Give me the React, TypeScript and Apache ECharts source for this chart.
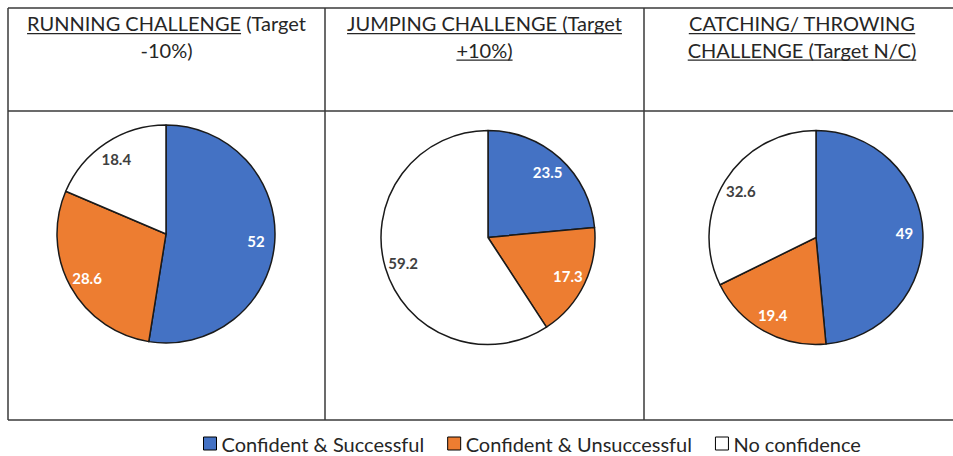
import React, { useEffect, useRef } from "react";
import * as echarts from "echarts";

const categories = ["Confident & Successful", "Confident & Unsuccessful", "No confidence"];
const runningValues = [52, 28.6, 18.4];
const jumpingValues = [23.5, 17.3, 59.2];
const catchingValues = [49, 19.4, 32.6];
const sliceColors = ["#4472C4", "#ED7D31", "#FFFFFF"];
const labelColors = ["#FFFFFF", "#FFFFFF", "#404040"];

// title lines: [full text, underlined prefix]
const runningTitle: [string, string][] = [
  ["RUNNING CHALLENGE (Target", "RUNNING CHALLENGE"],
  ["-10%)", ""],
];
const jumpingTitle: [string, string][] = [
  ["JUMPING CHALLENGE (Target", "JUMPING CHALLENGE (Target"],
  ["+10%)", "+10%)"],
];
const catchingTitle: [string, string][] = [
  ["CATCHING/ THROWING", "CATCHING/ THROWING"],
  ["CHALLENGE (Target N/C)", "CHALLENGE (Target N/C)"],
];

const FONT = "Lato";
const TEXT_COLOR = "#262626";
const LINE_COLOR = "#3a3a3a";
const TITLE_SIZE = 20;

function measure(text: string, font: string): number {
  const c = document.createElement("canvas").getContext("2d");
  if (!c) return text.length * 9;
  c.font = font;
  return c.measureText(text).width;
}

export default function App() {
  const ref = useRef<HTMLDivElement>(null);

  useEffect(() => {
    if (!ref.current) return;
    const chart = echarts.init(ref.current, undefined, { renderer: "svg" });

    const panels = [
      { values: runningValues, title: runningTitle, cx: 166, cy: 234, r: 109, tx: 166.5 },
      { values: jumpingValues, title: jumpingTitle, cx: 488, cy: 237.5, r: 107, tx: 484.5 },
      { values: catchingValues, title: catchingTitle, cx: 816, cy: 237.5, r: 107, tx: 802 },
    ];

    const series: any[] = [];
    panels.forEach((p) => {
      series.push({
        type: "pie",
        center: [p.cx, p.cy],
        radius: p.r,
        startAngle: 90,
        clockwise: true,
        label: { show: false },
        labelLine: { show: false },
        emphasis: { disabled: true },
        itemStyle: { borderColor: "#1a1a1a", borderWidth: 1.5 },
        data: categories.map((name, i) => ({
          name,
          value: p.values[i],
          itemStyle: { color: sliceColors[i] },
        })),
      });
    });
    panels.forEach((p) => {
      series.push({
        type: "pie",
        center: [p.cx, p.cy],
        radius: [p.r * 0.6, p.r],
        startAngle: 90,
        clockwise: true,
        silent: true,
        legendHoverLink: false,
        emphasis: { disabled: true },
        labelLine: { show: false },
        itemStyle: { color: "rgba(0,0,0,0)", borderWidth: 0 },
        label: {
          show: true,
          position: "inside",
          formatter: "{c}",
          fontFamily: FONT,
          fontWeight: "bold",
          fontSize: 15,
        },
        data: categories.map((name, i) => ({
          name,
          value: p.values[i],
          label: { color: labelColors[i] },
        })),
      });
    });

    const titleFont = `${TITLE_SIZE}px ${FONT}`;
    const baselines = [31, 57.5];
    const graphics: any[] = [];
    panels.forEach((p) => {
      p.title.forEach(([text, under], li) => {
        const base = baselines[li];
        graphics.push({
          type: "text",
          x: p.tx,
          y: base - TITLE_SIZE * 0.38,
          style: {
            text,
            font: titleFont,
            fill: TEXT_COLOR,
            align: "center",
            verticalAlign: "middle",
          },
        });
        if (under) {
          const full = measure(text, titleFont);
          const uw = measure(under, titleFont);
          const x0 = p.tx - full / 2;
          graphics.push({
            type: "rect",
            shape: { x: x0, y: base + 2, width: uw, height: 1.2 },
            style: { fill: TEXT_COLOR },
          });
        }
      });
    });

    const hLines = [8, 111, 420];
    hLines.forEach((y) => {
      graphics.push({
        type: "line",
        shape: { x1: 8, y1: y, x2: 953, y2: y },
        style: { stroke: LINE_COLOR, lineWidth: 1.5 },
      });
    });
    [8, 325, 644].forEach((x) => {
      graphics.push({
        type: "line",
        shape: { x1: x, y1: 8, x2: x, y2: 420 },
        style: { stroke: LINE_COLOR, lineWidth: 1.5 },
      });
    });

    chart.setOption({
      animation: false,
      backgroundColor: "#ffffff",
      legend: {
        data: categories,
        left: 203,
        top: 433.5,
        padding: 0,
        icon: "rect",
        itemWidth: 13,
        itemHeight: 13,
        itemGap: 23,
        selectedMode: false,
        itemStyle: { borderColor: "#000000", borderWidth: 1 },
        textStyle: { fontFamily: FONT, fontSize: 20, color: TEXT_COLOR },
      },
      graphic: graphics,
      series,
    });

    return () => chart.dispose();
  }, []);

  return (
    <div
      ref={ref}
      style={{ position: "fixed", left: 0, top: 0, width: 953, height: 456 }}
    />
  );
}
